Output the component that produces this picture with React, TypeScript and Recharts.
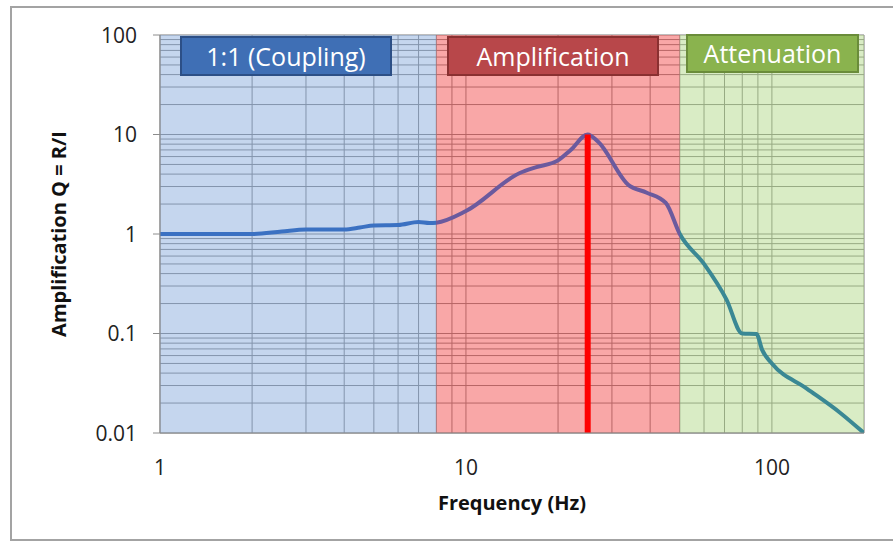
import { LineChart, Line, XAxis, YAxis, CartesianGrid, ReferenceArea, Label } from 'recharts'

const freq = [1, 2, 2.5, 3, 4, 4.5, 5, 6, 7, 7.6, 8, 10, 15, 17, 20, 22, 25, 27, 34, 39, 45, 50, 60, 71, 80, 89, 93, 100, 130, 167, 200]
const amp = [1.0, 1.0, 1.06, 1.11, 1.11, 1.16, 1.22, 1.23, 1.32, 1.29, 1.3, 1.7, 4.1, 4.7, 5.5, 7.0, 10, 8.5, 3.1, 2.6, 2.05, 1.0, 0.5, 0.22, 0.1, 0.099, 0.068, 0.05, 0.028, 0.016, 0.01]

// resonance marker
const peakFreq = 25
const peakAmp = 10

// regions
const regionNames = ['1:1 (Coupling)', 'Amplification', 'Attenuation']
const regionFrom = [1, 8, 50]
const regionTo = [8, 50, 200]
const regionFill = ['#8badde', '#f34f4f', '#b3d98b']
const lineColors = ['#3b71c2', '#6b5a9e', '#3a8894']
const tagFill = ['#3f6fb5', '#b8474a', '#8ab34e']
const tagBorder = ['#2c4f86', '#8a3031', '#6a8c3a']

const xTicks = [1, 2, 3, 4, 5, 6, 7, 8, 9, 10, 20, 30, 40, 50, 60, 70, 80, 90, 100, 200]
const yTicks = [
  0.01, 0.02, 0.03, 0.04, 0.05, 0.06, 0.07, 0.08, 0.09,
  0.1, 0.2, 0.3, 0.4, 0.5, 0.6, 0.7, 0.8, 0.9,
  1, 2, 3, 4, 5, 6, 7, 8, 9,
  10, 20, 30, 40, 50, 60, 70, 80, 90, 100,
]
const xLabelled = [1, 10, 100]

const data = freq.map((f, i) => ({ f, q: amp[i] }))
const peakData = [
  { f: peakFreq, q: 0.01 },
  { f: peakFreq, q: peakAmp },
]

const FONT = '"Open Sans", Calibri, sans-serif'

const isDecade = (v: number) => Math.abs(Math.log10(v) - Math.round(Math.log10(v))) < 1e-6

const YTick = ({ x, y, payload }: any) => {
  if (!isDecade(payload.value)) return <g />
  return (
    <g>
      <line x1={x - 7} x2={x} y1={y} y2={y} stroke="#8c8c8c" />
      <text x={x - 23} y={y + 7.5} textAnchor="end" fontSize={21} fill="#222" fontFamily={FONT}>
        {String(payload.value)}
      </text>
    </g>
  )
}

const XTick = ({ x, y, payload }: any) => {
  if (!xLabelled.includes(payload.value)) return <g />
  return (
    <text x={x} y={y + 42} textAnchor="middle" fontSize={21} fill="#222" fontFamily={FONT}>
      {String(payload.value)}
    </text>
  )
}

// gradient stops where the line crosses region borders
const span = Math.log10(freq[freq.length - 1] / freq[0])
const stopAt = (v: number) => Math.log10(v / freq[0]) / span

const tagBoxes = [
  { left: 180, top: 36, width: 212, height: 40 },
  { left: 447, top: 36, width: 212, height: 40 },
  { left: 686, top: 34, width: 173, height: 39 },
]

export default function App() {
  return (
    <div style={{ position: 'absolute', left: 0, top: 0, width: 893, height: 544, background: '#fff', overflow: 'hidden' }}>
      <div
        style={{
          position: 'absolute', left: 10, top: 6, width: 900, height: 535,
          border: '2px solid #a3a3a3', boxSizing: 'border-box',
        }}
      />
      <LineChart width={893} height={544} margin={{ top: 35, right: 29, bottom: 0, left: 0 }}>
        <defs>
          <linearGradient id="qGrad" x1="0" y1="0" x2="1" y2="0">
            <stop offset={0} stopColor={lineColors[0]} />
            <stop offset={stopAt(regionTo[0])} stopColor={lineColors[0]} />
            <stop offset={stopAt(regionTo[0])} stopColor={lineColors[1]} />
            <stop offset={stopAt(regionTo[1])} stopColor={lineColors[1]} />
            <stop offset={stopAt(regionTo[1])} stopColor={lineColors[2]} />
            <stop offset={1} stopColor={lineColors[2]} />
          </linearGradient>
        </defs>
        <CartesianGrid stroke="#7a7a7a" strokeWidth={1} fill="none" />
        <XAxis
          dataKey="f"
          type="number"
          scale="log"
          domain={[1, 200]}
          ticks={xTicks}
          interval={0}
          allowDataOverflow
          height={111}
          tickSize={0}
          tickMargin={0}
          tickLine={false}
          tick={<XTick />}
          axisLine={{ stroke: '#8c8c8c' }}
        >
          <Label
            content={({ viewBox }: any) => (
              <text
                x={viewBox.x + viewBox.width / 2}
                y={viewBox.y + 77}
                textAnchor="middle"
                fontSize={20}
                fontWeight="bold"
                fill="#111"
                fontFamily={FONT}
              >
                Frequency (Hz)
              </text>
            )}
          />
        </XAxis>
        <YAxis
          type="number"
          scale="log"
          domain={[0.01, 100]}
          ticks={yTicks}
          interval={0}
          allowDataOverflow
          width={160}
          tickSize={0}
          tickMargin={0}
          tickLine={false}
          tick={<YTick />}
          axisLine={{ stroke: '#8c8c8c' }}
        >
          <Label
            content={({ viewBox }: any) => {
              const cx = viewBox.x + 58
              const cy = viewBox.y + viewBox.height / 2
              return (
                <text
                  x={cx}
                  y={cy}
                  transform={`rotate(-90 ${cx} ${cy})`}
                  textAnchor="middle"
                  dominantBaseline="central"
                  fontSize={20}
                  fontWeight="bold"
                  fill="#111"
                  fontFamily={FONT}
                >
                  Amplification Q = R/I
                </text>
              )
            }}
          />
        </YAxis>
        {regionNames.map((name, i) => (
          <ReferenceArea
            key={name}
            x1={regionFrom[i]}
            x2={regionTo[i]}
            y1={0.01}
            y2={100}
            fill={regionFill[i]}
            fillOpacity={0.5}
            stroke="none"
            ifOverflow="visible"
          />
        ))}
        <Line
          data={data}
          dataKey="q"
          type="monotone"
          stroke="url(#qGrad)"
          strokeWidth={4}
          dot={false}
          activeDot={false}
          isAnimationActive={false}
        />
        <Line
          data={peakData}
          dataKey="q"
          type="linear"
          stroke="#ff0000"
          strokeWidth={6}
          dot={false}
          activeDot={false}
          isAnimationActive={false}
        />
      </LineChart>
      {regionNames.map((name, i) => (
        <div
          key={name}
          style={{
            position: 'absolute',
            left: tagBoxes[i].left,
            top: tagBoxes[i].top,
            width: tagBoxes[i].width,
            height: tagBoxes[i].height,
            boxSizing: 'border-box',
            background: tagFill[i],
            border: `2px solid ${tagBorder[i]}`,
            color: '#fff',
            fontFamily: FONT,
            fontSize: 25,
            display: 'flex',
            alignItems: 'center',
            justifyContent: 'center',
            lineHeight: 1,
          }}
        >
          {name}
        </div>
      ))}
    </div>
  )
}
